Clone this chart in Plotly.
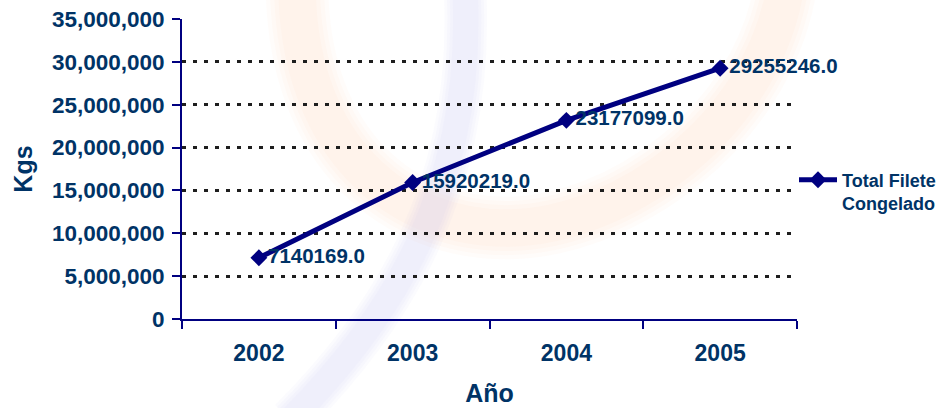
import plotly.graph_objects as go

# Data
years = ["2002", "2003", "2004", "2005"]
kgs = [7140169.0, 15920219.0, 23177099.0, 29255246.0]
series_name = "Total Filete<br>Congelado"

y_ticks = [0, 5_000_000, 10_000_000, 15_000_000, 20_000_000, 25_000_000, 30_000_000, 35_000_000]

TEXT = "#003366"
NAVY = "#000080"
FONT = "Arial, Liberation Sans, sans-serif"

W, H = 947, 408
L, R, T, B = 182, 150, 19, 89
PW, PH = W - L - R, H - T - B


def to_paper(pts):
    """Convert pixel points on the page into a paper-referenced SVG path."""
    out = []
    for cmd, coords in pts:
        seg = []
        for x, y in coords:
            seg.append(f"{(x - L) / PW:.4f},{1 - (y - T) / PH:.4f}")
        out.append(cmd + " " + " ".join(seg))
    return " ".join(out)


def soft_stroke(path, rgb, alpha, width, steps=4):
    """Stack progressively narrower strokes so the band fades at its edges."""
    out = []
    for i in range(steps):
        w = width * (1.25 - 0.5 * i / (steps - 1))
        out.append(dict(type="path", xref="paper", yref="paper", layer="below",
                        path=path,
                        line=dict(color=f"rgba({rgb},{alpha / steps:.3f})",
                                  width=w)))
    return out


fig = go.Figure()

fig.add_trace(go.Scatter(
    x=years, y=kgs, name=series_name,
    mode="lines+markers+text",
    line=dict(color=NAVY, width=5),
    marker=dict(symbol="diamond", size=13, color=NAVY),
    texttemplate="%{y:.1f}",
    textposition="middle right",
    textfont=dict(family=FONT, size=20.5, color=TEXT, weight="bold"),
    cliponaxis=False,
))

# faint decorative logo swirls behind the plot
orange_path = to_paper([("M", [(297, -10)]),
                        ("C", [(300, 150), (400, 230), (510, 228)]),
                        ("S", [(760, 130), (785, -10)])])
lilac_path = to_paper([("M", [(290, 420)]),
                       ("C", [(390, 320), (475, 190), (465, -10)])])
shapes = (soft_stroke(orange_path, "245,170,100", 0.13, 50)
          + soft_stroke(lilac_path, "170,170,225", 0.19, 34))

fig.update_layout(
    width=W, height=H, autosize=False,
    margin=dict(l=L, r=R, t=T, b=B, pad=0, autoexpand=False),
    paper_bgcolor="white", plot_bgcolor="rgba(0,0,0,0)",
    font=dict(family=FONT, color=TEXT, weight="bold"),
    shapes=shapes,
    showlegend=True,
    legend=dict(x=1.0 - 3 / PW, xanchor="left", y=0.525, yanchor="top",
                valign="top", bgcolor="rgba(0,0,0,0)",
                font=dict(family=FONT, size=18, color=TEXT, weight="bold"),
                itemwidth=38),
    xaxis=dict(
        type="category", categoryorder="array", categoryarray=years,
        range=[-0.5, 3.5], tickson="boundaries",
        showgrid=False, zeroline=False,
        showline=True, linecolor=NAVY, linewidth=2,
        ticks="outside", ticklen=8, tickwidth=2, tickcolor=NAVY,
        tickfont=dict(family=FONT, size=23, color=TEXT, weight="bold"),
        ticklabelstandoff=12,
        title=dict(text="Año", standoff=20,
                   font=dict(family=FONT, size=25, color=TEXT, weight="bold")),
    ),
    yaxis=dict(
        range=[0, 35_000_000], tickvals=y_ticks, tickformat=",d",
        showgrid=True, gridcolor="#1e1e1e", gridwidth=3, griddash="4px,7px",
        zeroline=False,
        showline=True, linecolor=NAVY, linewidth=2,
        ticks="outside", ticklen=8, tickwidth=2, tickcolor=NAVY,
        tickfont=dict(family=FONT, size=22.5, color=TEXT, weight="bold"),
        ticklabelstandoff=3,
        title=dict(text="Kgs", standoff=12,
                   font=dict(family=FONT, size=25, color=TEXT, weight="bold")),
    ),
)

fig.write_html("out.html")
